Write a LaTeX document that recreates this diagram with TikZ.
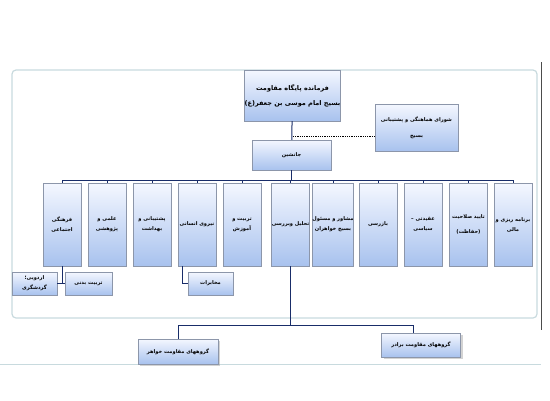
\documentclass[tikz,border=0pt]{standalone}
\definecolor{boxtop}{RGB}{244,247,255}
\definecolor{boxbot}{RGB}{168,194,238}
\definecolor{boxline}{RGB}{140,150,170}
\definecolor{linkc}{RGB}{25,45,105}
\definecolor{framec}{RGB}{200,218,222}
\usepackage{fontspec}
\newfontfamily\farsi[Script=Arabic]{DejaVu Sans}
\TeXXeTstate=1
\newcommand{\rl}[1]{\beginR #1\endR}
\usetikzlibrary{shadows}

\begin{document}
\begin{tikzpicture}[x=1pt,y=-1pt,
  unit/.style={draw=boxline, top color=boxtop, bottom color=boxbot, align=center,
    inner sep=0pt, font=\farsi\bfseries\fontsize{5.1}{10}\selectfont},
  dept/.style={unit, minimum width=38pt, minimum height=83pt},
  subunit/.style={unit, minimum width=45pt, minimum height=23pt},
  group/.style={unit, minimum width=79pt, minimum height=25pt,
    drop shadow={shadow xshift=2pt, shadow yshift=-2pt, opacity=0.35}},
  link/.style={draw=linkc, line width=1pt}]

\useasboundingbox (0,0) rectangle (550,400);

% Frame
\draw[framec, line width=1.2pt, rounded corners=4pt] (12,70) rectangle (537,318);
\draw[black!70, line width=0.8pt] (541,62) -- (541,330);
\draw[framec, line width=1pt] (0,364) -- (541,364);

% Head and deputy
\node[unit, minimum width=95pt, minimum height=51pt, font=\farsi\bfseries\fontsize{6.5}{10}\selectfont] (head) at (292.5,95.5)
  {\rl{فرمانده پایگاه مقاومت}\\[5pt]\rl{بسیج امام موسی بن جعفر(ع)}};
\node[unit, minimum width=83pt, minimum height=47pt] (council) at (416.5,127.5)
  {\rl{شورای هماهنگی و پشتیبانی}\\[6pt]\rl{بسیج}};
\node[unit, minimum width=79pt, minimum height=30pt] (deputy) at (291.5,155) {\rl{جانشین}};

% Departments
\node[dept] (d1) at (62,224.5) {\rl{فرهنگی}\\\rl{اجتماعی}};
\node[dept] (d2) at (107,224.5) {\rl{علمی و}\\\rl{پژوهشی}};
\node[dept] (d3) at (152,224.5) {\rl{پشتیبانی و}\\\rl{بهداشت}};
\node[dept] (d4) at (197,224.5) {\rl{نیروی انسانی}};
\node[dept] (d5) at (242,224.5) {\rl{تربیت و}\\\rl{آموزش}};
\node[dept] (d6) at (290.5,224.5) {\rl{تحلیل وبررسی}};
\node[dept] (d7) at (333,224.5) {\rl{مشاور و مسئول}\\\rl{بسیج خواهران}};
\node[dept] (d8) at (378,224.5) {\rl{بازرسی}};
\node[dept] (d9) at (423,224.5) {\rl{عقیدتی –}\\\rl{سیاسی}};
\node[dept] (d10) at (468.5,224.5) {\rl{تایید صلاحیت}\\[5pt]\rl{(حفاظت)}};
\node[dept] (d11) at (513,224.5) {\rl{برنامه ریزی و}\\\rl{مالی}};

% Sub units
\node[subunit] (camp) at (34.5,283.5) {\rl{اردویی؛}\\\rl{گردشگری}};
\node[subunit, minimum width=47pt] (sport) at (88.5,283.5) {\rl{تربیت بدنی}};
\node[subunit] (comm) at (210.5,283.5) {\rl{مخابرات}};

% Resistance groups
\node[group, minimum width=80pt] (sisters) at (178,351.5) {\rl{گروههای مقاومت خواهر}};
\node[group, minimum height=24pt] (brothers) at (421,345) {\rl{گروههای مقاومت برادر}};

% Links
\coordinate (bus) at (291.5,180);
\coordinate (hub) at (290.5,325);
\draw[link] (head) -- (deputy);
\draw[densely dotted, line width=0.8pt] ([yshift=-8.5pt]council.west) -- ([yshift=-8.5pt]council.west -| head.south);
\draw[link] (deputy) -- (bus);
\draw[link] (bus -| d1.north) -- (bus -| d11.north);
\foreach \i in {1,...,11}
  \draw[link] (bus -| d\i.north) -- (d\i.north);
\draw[link] (d1.south) |- (camp.east);
\draw[link] (d1.south) |- (sport.west);
\draw[link] ([xshift=-15pt]d4.south) |- (comm.west);
\draw[link] (d6.south) -- (hub);
\draw[link] (hub) -| (sisters.north);
\draw[link] (hub) -| ([xshift=-8pt]brothers.north);

\end{tikzpicture}
\end{document}
